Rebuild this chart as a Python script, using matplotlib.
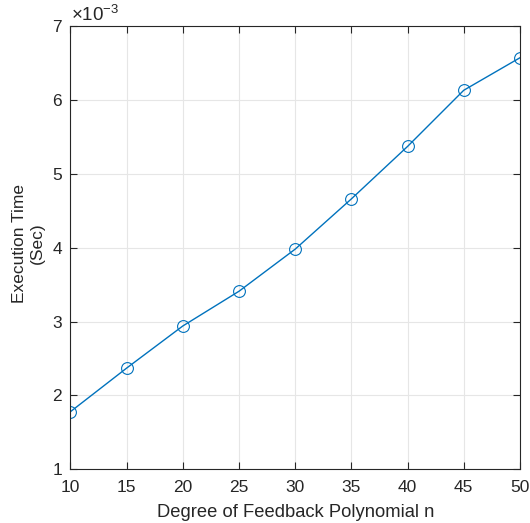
import numpy as np
import matplotlib
matplotlib.use("Agg")
import matplotlib.pyplot as plt
from matplotlib.ticker import FuncFormatter

plt.rcParams["font.family"] = ["Liberation Sans", "DejaVu Sans"]
plt.rcParams["mathtext.fontset"] = "custom"
plt.rcParams["mathtext.rm"] = "Liberation Sans"

degree = [10, 15, 20, 25, 30, 35, 40, 45, 50]
exec_time = [1.78e-3, 2.37e-3, 2.94e-3, 3.41e-3, 3.98e-3, 4.66e-3, 5.37e-3, 6.13e-3, 6.57e-3]

fig = plt.figure(figsize=(5.30, 5.23), dpi=100)
ax = fig.add_axes([0.133, 0.1027, 0.848, 0.8476])

ax.plot(degree, exec_time, color="#0072BD", lw=1.0, marker="o", ms=8.5,
        mfc="none", mec="#0072BD", mew=0.8)

ax.set_xlim(10, 50)
ax.set_ylim(1e-3, 7e-3)
ax.set_xticks(np.arange(10, 51, 5))
ax.set_yticks(np.arange(1e-3, 7.01e-3, 1e-3))

# MATLAB-style exponent shown once above the axis
ax.yaxis.set_major_formatter(FuncFormatter(lambda v, p: f"{v / 1e-3:g}"))
ax.text(0.002, 1.002, r"$\times10^{-3}$", transform=ax.transAxes,
        ha="left", va="bottom", fontsize=13.5, color="#262626")

ax.grid(True, color="#e6e6e6", lw=0.8)
ax.set_axisbelow(True)
ax.tick_params(direction="in", top=True, right=True, labelsize=12.5,
               colors="#262626", length=5, width=0.8)
ax.tick_params(axis="x", pad=8)
ax.tick_params(axis="y", pad=6)
for s in ax.spines.values():
    s.set_color("#262626")
    s.set_linewidth(0.8)

ax.set_xlabel("Degree of Feedback Polynomial n", fontsize=13.2, color="#262626", labelpad=6)
ax.set_ylabel("Execution Time\n(Sec)", fontsize=12.5, color="#262626")
ax.yaxis.set_label_coords(-0.058, 0.509)

fig.savefig("out.png", dpi=100, facecolor="white")
